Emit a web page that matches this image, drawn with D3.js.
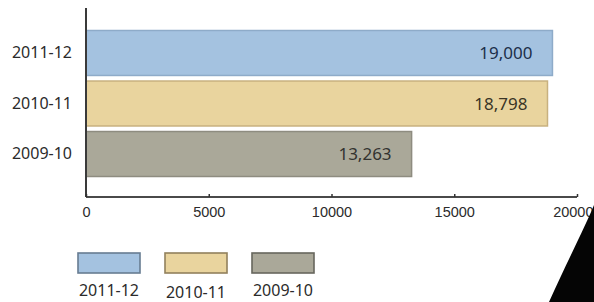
<!DOCTYPE html>
<html>
<head>
<meta charset="utf-8">
<script src="https://cdn.jsdelivr.net/npm/d3@7"></script>
<style>
    body { margin: 0; background: #fff; }
    svg { display: block; font-family: "Noto Sans", "Open Sans", sans-serif; }
    .cat-label { font-size: 16px; fill: #2b2b2b; }
    .tick-label { font-size: 14.5px; fill: #2b2b2b; }
    .value-label { font-size: 17px; }
    .legend-label { font-size: 16px; fill: #2b2b2b; }
</style>
</head>
<body>
<div id="chart"></div>
<script>
var categories = ["2011-12", "2010-11", "2009-10"];
var values = [19000, 18798, 13263];
var tickValues = [0, 5000, 10000, 15000, 20000];
var fills = ["#a4c2e0", "#e9d49e", "#aaa899"];
var strokes = ["#8eabc9", "#c8b17f", "#8e8c80"];
var labelColors = ["#1c2f4a", "#3a3526", "#333330"];

var width = 594, height = 302;

var svg = d3.select("#chart").append("svg")
    .attr("width", width)
    .attr("height", height);

var x = d3.scaleLinear().domain([0, 20000]).range([86, 577]);
var y = d3.scaleBand().domain(categories).range([30, 177]).paddingInner(0.09);
var axisY = 197;

// bars
var bar = svg.append("g").attr("class", "bars")
    .selectAll("g")
    .data(categories)
    .enter().append("g");

bar.append("rect")
    .attr("x", x(0))
    .attr("y", function (d) { return y(d) + 0.5; })
    .attr("width", function (d, i) { return x(values[i]) - x(0); })
    .attr("height", y.bandwidth() - 1)
    .attr("fill", function (d, i) { return fills[i]; })
    .attr("stroke", function (d, i) { return strokes[i]; })
    .attr("stroke-width", 1.5);

bar.append("text")
    .attr("class", "value-label")
    .attr("x", function (d, i) { return x(values[i]) - 20; })
    .attr("y", function (d) { return y(d) + y.bandwidth() / 2 + 6; })
    .attr("text-anchor", "end")
    .attr("fill", function (d, i) { return labelColors[i]; })
    .text(function (d, i) { return d3.format(",")(values[i]); });

// category labels
svg.append("g").selectAll("text")
    .data(categories)
    .enter().append("text")
    .attr("class", "cat-label")
    .attr("x", 72)
    .attr("y", function (d) { return y(d) + y.bandwidth() / 2 + 5; })
    .attr("text-anchor", "end")
    .text(function (d) { return d; });

// axes
svg.append("line")
    .attr("x1", x(0)).attr("x2", x(0))
    .attr("y1", 8).attr("y2", axisY)
    .attr("stroke", "#3a3a3a").attr("stroke-width", 2);

var xAxis = d3.axisBottom(x).tickValues(tickValues).tickSize(-3).tickFormat(d3.format("d"));
var gx = svg.append("g")
    .attr("transform", "translate(0," + axisY + ")")
    .call(xAxis);
gx.select(".domain").attr("stroke", "#4a4a4a").attr("stroke-width", 2.2).attr("d", "M" + x(0) + ",0H" + x(20000));
gx.selectAll(".tick line").attr("stroke", "#333").attr("stroke-width", 1.5);
gx.selectAll(".tick text")
    .attr("class", "tick-label")
    .attr("y", 10)
    .attr("font-family", null).attr("font-size", null).attr("fill", "#2b2b2b");
// last label sits against the right edge of the picture
gx.selectAll(".tick text")
    .filter(function (d) { return d === 20000; })
    .attr("text-anchor", "end")
    .attr("x", width - 1 - x(20000));

// legend
var lx = d3.scalePoint().domain(categories).range([78, 252]);
var legend = svg.append("g").selectAll("g")
    .data(categories)
    .enter().append("g")
    .attr("transform", function (d) { return "translate(" + lx(d) + ",253)"; });

legend.append("rect")
    .attr("width", 62)
    .attr("height", 20)
    .attr("fill", function (d, i) { return fills[i]; })
    .attr("stroke", function (d, i) { return d3.color(strokes[i]).darker(0.9); })
    .attr("stroke-width", 1.6);

legend.append("text")
    .attr("class", "legend-label")
    .attr("x", 31)
    .attr("y", function (d, i) { return i === 1 ? 45 : 43; })
    .attr("text-anchor", "middle")
    .text(function (d) { return d; });

// dark shape at the lower right corner of the photo
svg.append("path")
    .attr("d", "M594,205 C586,225 567,262 549,302 L594,302 Z")
    .attr("fill", "#050505");
</script>
</body>
</html>
